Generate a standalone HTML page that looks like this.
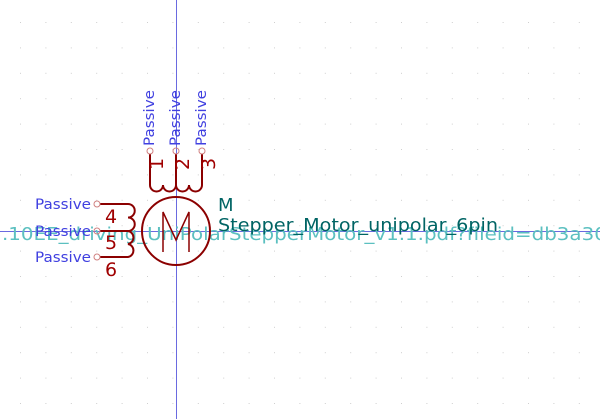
<!DOCTYPE html>
<html><head><style>
html,body{margin:0;padding:0;background:#fff;width:600px;height:419px;overflow:hidden}
svg{display:block}
text{font-family:"DejaVu Sans","Liberation Sans",sans-serif}
</style></head><body>
<svg width="600" height="419" viewBox="0 0 600 419">
<g fill="#cfcfcf" id="grid"></g>
<line x1="176.5" y1="0" x2="176.5" y2="419" stroke="#6a6ae0" stroke-width="1"/>
<line x1="0" y1="231.5" x2="600" y2="231.5" stroke="#6a6ae0" stroke-width="1"/>
<text x="2" y="240" font-size="18" fill="#5cc0c0" textLength="612" lengthAdjust="spacingAndGlyphs">.10EE_driving_UniPolarStepperMotor_v1.1.pdf?fileid=db3a30-</text>
<g stroke="#8b0000" stroke-width="2" fill="none">
<circle cx="176" cy="231" r="34"/>
<path d="M163 252 V212 L176 240 L189 212 V252" stroke-width="1.5"/>
<path d="M150 154 V185 A6.5 6.5 0 0 0 163 185 A6.5 6.5 0 0 0 176 185 A6.5 6.5 0 0 0 189 185 A6.5 6.5 0 0 0 202 185 M176 154 V185 M202 154 V185"/>
<path d="M100 204 H128 A6.6 6.6 0 0 1 128 217.5 A6.6 6.6 0 0 1 128 231 A6.6 6.6 0 0 1 128 244 A6.6 6.6 0 0 1 128 257 H100 M100 231 H128"/>
</g>
<g stroke="#d08080" fill="none" stroke-width="1">
<circle cx="150" cy="151" r="3"/>
<circle cx="176" cy="151" r="3"/>
<circle cx="202" cy="151" r="3"/>
<circle cx="97" cy="204" r="3"/>
<circle cx="97" cy="231" r="3"/>
<circle cx="97" cy="257" r="3"/>
</g>
<g fill="#a00000" font-size="19">
<text transform="translate(163,164) rotate(-90)" text-anchor="middle">1</text>
<text transform="translate(189,164) rotate(-90)" text-anchor="middle">2</text>
<text transform="translate(215,164) rotate(-90)" text-anchor="middle">3</text>
<text x="105" y="223">4</text>
<text x="105" y="249">5</text>
<text x="105" y="276">6</text>
</g>
<g fill="#4040e0" font-size="14">
<text transform="translate(154,146) rotate(-90)" textLength="56" lengthAdjust="spacingAndGlyphs">Passive</text>
<text transform="translate(180,146) rotate(-90)" textLength="56" lengthAdjust="spacingAndGlyphs">Passive</text>
<text transform="translate(206,146) rotate(-90)" textLength="56" lengthAdjust="spacingAndGlyphs">Passive</text>
<text x="35" y="209" textLength="56" lengthAdjust="spacingAndGlyphs">Passive</text>
<text x="35" y="236" textLength="56" lengthAdjust="spacingAndGlyphs">Passive</text>
<text x="35" y="262" textLength="56" lengthAdjust="spacingAndGlyphs">Passive</text>
</g>
<text x="218" y="211" font-size="18" fill="#006464">M</text>
<text x="218" y="231" font-size="18" fill="#006464" textLength="280" lengthAdjust="spacingAndGlyphs">Stepper_Motor_unipolar_6pin</text>
</svg>
<script>
var g=document.getElementById('grid');
for(var x=20;x<600;x+=25.4){for(var y=22;y<419;y+=25.4){
var r=document.createElementNS('http://www.w3.org/2000/svg','rect');
r.setAttribute('x',x.toFixed(1));r.setAttribute('y',y.toFixed(1));r.setAttribute('width','1');r.setAttribute('height','1');


g.appendChild(r);}}
</script>
</body></html>
